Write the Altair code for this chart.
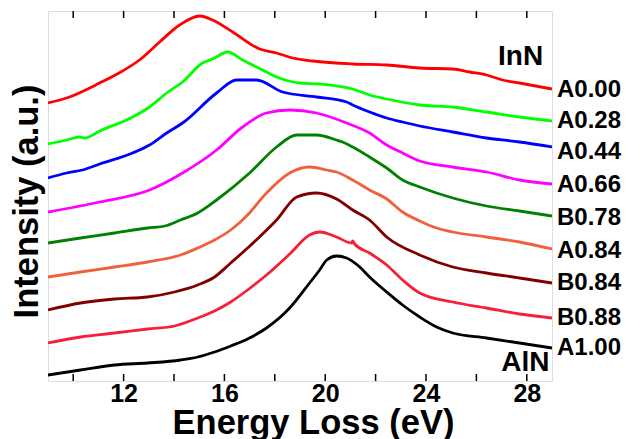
import altair as alt
import pandas as pd

# ---- data (energy in eV, intensity in arbitrary stacked units)
names = ["A0.00", "A0.28", "A0.44", "A0.66", "B0.78", "A0.84", "B0.84", "B0.88", "A1.00"]
colors = ["#FF0000", "#00FF00", "#0000FF", "#FF00FF", "#008000", "#F0603C", "#800000", "#F52038", "#000000"]

e_a000 = [9.0, 9.74, 11.05, 11.96, 12.63, 13.43, 14.22, 15.02, 15.53, 16.33, 17.40, 18.07, 18.71, 19.50, 21.09, 22.44, 23.75, 25.06, 25.73, 26.40, 27.04, 27.71, 29.0]
i_a000 = [278, 283, 298, 310, 321, 339, 356, 365, 361, 349, 332, 328, 323, 320, 317, 316, 313, 312, 309, 306, 301, 298, 292]

e_a028 = [9.0, 9.74, 10.25, 10.45, 11.05, 12.36, 13.03, 13.71, 14.34, 15.13, 15.53, 16.13, 16.72, 17.28, 18.07, 18.98, 19.78, 21.09, 21.76, 22.44, 23.75, 25.06, 26.40, 27.71, 29.0]
i_a028 = [237, 241, 244, 243, 250, 264, 274, 288, 299, 318, 322, 329, 321, 314, 304, 298, 297, 292, 286, 282, 276, 274, 269, 264, 260]

e_a044 = [9.0, 9.74, 10.37, 11.05, 12.36, 13.03, 13.71, 14.34, 15.69, 16.48, 17.28, 18.31, 19.66, 20.85, 21.09, 21.76, 22.44, 23.07, 23.75, 25.06, 26.40, 27.71, 29.0]
i_a044 = [203, 208, 211, 217, 228, 236, 248, 258, 288, 301, 301, 289, 284, 279, 276, 269, 263, 259, 255, 249, 243, 239, 234]

e_a066 = [9.0, 11.05, 13.03, 14.34, 15.69, 16.72, 17.67, 18.59, 19.66, 20.85, 21.76, 22.44, 23.07, 23.75, 25.06, 26.40, 27.71, 29.0]
i_a066 = [169, 179, 191, 208, 231, 254, 268, 271, 268, 258, 248, 236, 228, 220, 214, 209, 201, 197]

e_b078 = [9.0, 10.29, 11.64, 12.95, 13.63, 14.26, 14.94, 15.69, 17.0, 18.07, 18.87, 19.66, 20.45, 20.69, 21.09, 21.76, 22.44, 23.07, 23.75, 25.06, 26.40, 27.71, 29.0]
i_b078 = [138, 143, 148, 153, 155, 161, 168, 181, 208, 234, 246, 246, 241, 239, 234, 224, 213, 201, 194, 183, 175, 170, 165]

e_a084 = [9.0, 10.29, 11.64, 12.95, 14.26, 14.94, 15.61, 16.25, 16.92, 17.67, 18.59, 19.38, 20.06, 20.45, 21.09, 21.76, 22.44, 23.07, 23.75, 24.42, 25.06, 26.40, 27.71, 29.0]
i_a084 = [104, 109, 114, 119, 126, 133, 141, 151, 166, 188, 208, 214, 211, 209, 201, 191, 182, 169, 160, 153, 149, 144, 139, 132]

e_b084 = [9.0, 10.29, 11.64, 12.95, 14.02, 14.94, 15.61, 16.25, 16.92, 18.07, 18.87, 19.66, 20.45, 21.09, 21.76, 22.44, 23.75, 25.06, 26.40, 27.71, 29.0]
i_b084 = [71, 78, 82, 84, 89, 96, 104, 118, 133, 161, 184, 188, 182, 171, 161, 144, 126, 114, 108, 103, 98]

e_b088 = [9.0, 10.29, 11.64, 12.95, 14.02, 14.94, 15.61, 16.25, 16.92, 17.67, 18.59, 19.38, 19.78, 20.45, 21.05, 21.09, 21.17, 21.76, 22.44, 23.07, 23.75, 25.06, 26.40, 27.71, 29.0]
i_b088 = [38, 44, 48, 52, 55, 63, 70, 79, 91, 106, 127, 146, 149, 144, 138, 140, 137, 128, 116, 101, 88, 79, 73, 67, 63]

e_a100 = [9.0, 10.29, 11.64, 12.95, 14.26, 14.94, 15.61, 16.25, 16.92, 17.67, 18.59, 19.38, 19.78, 20.06, 20.45, 20.85, 21.37, 21.76, 22.44, 23.07, 23.75, 24.42, 25.06, 26.40, 27.71, 29.0]
i_a100 = [6, 11, 16, 18, 21, 24, 29, 35, 42, 53, 73, 98, 111, 121, 125, 123, 114, 104, 89, 76, 64, 54, 48, 43, 38, 33]

energies = [e_a000, e_a028, e_a044, e_a066, e_b078, e_a084, e_b084, e_b088, e_a100]
intens = [i_a000, i_a028, i_a044, i_a066, i_b078, i_a084, i_b084, i_b088, i_a100]

label_y = [291, 260, 229, 196, 163, 130, 98, 63, 33]
end_names = ["InN", "AlN"]
end_x = [28.65, 28.9]
end_y = [324, 18]

x_labels = [12, 16, 20, 24, 28]
x_ticks = [10, 12, 14, 16, 18, 20, 22, 24, 26, 28]

rows = []
for n, es, iv in zip(names, energies, intens):
    for e, v in zip(es, iv):
        rows.append({"series": n, "E": e, "I": v})
df = pd.DataFrame(rows)

lab_df = pd.DataFrame({"name": names, "x": [29.0] * len(names), "y": label_y})
end_df = pd.DataFrame({"name": end_names, "x": end_x, "y": end_y})
tick_df = pd.DataFrame({"t": x_ticks})

FONT = "Liberation Sans"
W, H = 504, 370

xscale = alt.Scale(domain=[9, 29], nice=False, zero=False)
yscale = alt.Scale(domain=[0, 370], nice=False, zero=False)

lines = alt.Chart(df).mark_line(strokeWidth=2.8, clip=True, interpolate="monotone").encode(
    x=alt.X("E:Q", scale=xscale,
            axis=alt.Axis(values=x_labels, ticks=False, domain=False, grid=False,
                          labelFontSize=25, labelFontWeight="bold", labelFont=FONT,
                          labelColor="black", labelPadding=0,
                          title="Energy Loss (eV)", titleFontSize=34.5, titleFontWeight="bold",
                          titleFont=FONT, titleColor="black", titlePadding=0, titleX=265)),
    y=alt.Y("I:Q", scale=yscale,
            axis=alt.Axis(labels=False, ticks=False, domain=False, grid=False,
                          title="Intensity (a.u.)", titleFontSize=34.5, titleFontWeight="bold",
                          titleFont=FONT, titleColor="black", titlePadding=4, titleY=190)),
    color=alt.Color("series:N", scale=alt.Scale(domain=names, range=colors), legend=None),
    detail="series:N",
)

ticks_bottom = alt.Chart(tick_df).mark_rule(color="black", strokeWidth=1.5).encode(
    x=alt.X("t:Q", scale=xscale), y=alt.value(H), y2=alt.value(H - 7)
)
ticks_top = alt.Chart(tick_df).mark_rule(color="black", strokeWidth=1.5).encode(
    x=alt.X("t:Q", scale=xscale), y=alt.value(0), y2=alt.value(7)
)

labels = alt.Chart(lab_df).mark_text(
    align="left", baseline="middle", dx=5, font=FONT, fontSize=24, fontWeight="bold", color="black"
).encode(x=alt.X("x:Q", scale=xscale), y=alt.Y("y:Q", scale=yscale), text="name:N")

ends = alt.Chart(end_df).mark_text(
    align="right", baseline="middle", font=FONT, fontSize=28, fontWeight="bold", color="black"
).encode(x=alt.X("x:Q", scale=xscale), y=alt.Y("y:Q", scale=yscale), text="name:N")

chart = alt.layer(lines, ticks_bottom, ticks_top, labels, ends).properties(
    width=W, height=H,
    autosize=alt.AutoSizeParams(type="none"),
    padding={"left": 40, "top": 3, "right": 80, "bottom": 60},
).configure_view(stroke="black", strokeWidth=1.5).configure(background="white")

chart.save("out.html", embed_options={"renderer": "svg", "actions": False})
